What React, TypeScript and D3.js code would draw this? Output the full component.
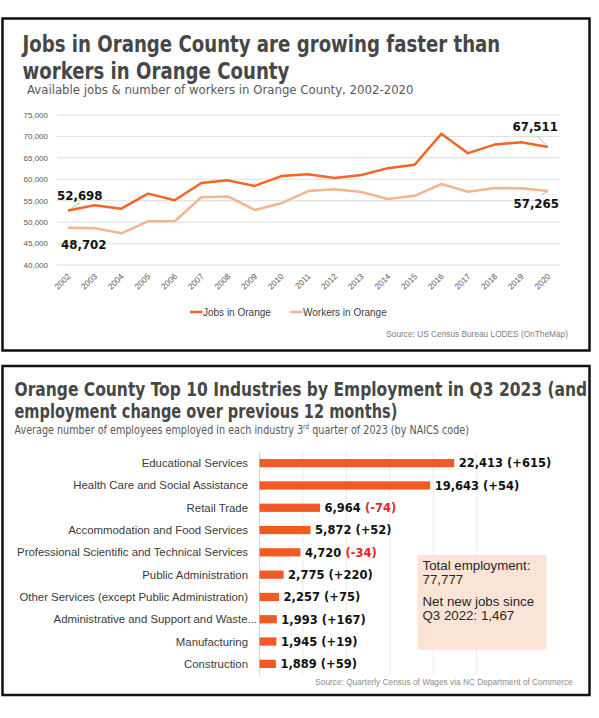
import * as d3 from 'd3'
import { useEffect, useRef } from 'react'

const W = 599, H = 718

// jobs vs workers, 2002-2020
const years = d3.range(2002, 2021)
const jobs = [52698, 53950, 53150, 56650, 55100, 59150, 59750, 58450, 60750, 61150, 60300, 61000, 62600, 63400, 70600, 66100, 68100, 68650, 67511]
const workers = [48702, 48600, 47400, 50200, 50200, 55800, 56000, 52850, 54400, 57250, 57700, 57050, 55400, 56150, 58900, 57100, 57950, 57900, 57265]
const yTicks = d3.range(40000, 75001, 5000)
const seriesNames = ['Jobs in Orange', 'Workers in Orange']

// top 10 industries, Q3 2023
const industries = [
  'Educational Services',
  'Health Care and Social Assistance',
  'Retail Trade',
  'Accommodation and Food Services',
  'Professional Scientific and Technical Services',
  'Public Administration',
  'Other Services (except Public Administration)',
  'Administrative and Support and Waste...',
  'Manufacturing',
  'Construction',
]
const employment = [22413, 19643, 6964, 5872, 4720, 2775, 2257, 1993, 1945, 1889]
const change = [615, 54, -74, 52, -34, 220, 75, 167, 19, 59]
const totalEmployment = 77777
const netNewJobs = 1467

const sans = 'Liberation Sans, Arial, sans-serif'
const narrow = '"Liberation Sans Narrow", "DejaVu Sans Condensed", "Liberation Sans", Arial, sans-serif'
const heavy = '"DejaVu Sans", Verdana, sans-serif'
const jobsColor = '#F26522'
const workersColor = '#F5B48C'
const barColor = '#F15A24'
const fmt = d3.format(',')

type Sel = d3.Selection<SVGGElement, unknown, null, undefined>

// squeeze each line horizontally to the width it is given
const block = (g: Sel, x: number, lines: { text: string, y: number, w: number }[],
  size: number, weight: number, fill: string, font: string) => {
  lines.forEach(l => {
    const t = g.append('text')
      .attr('font-family', font)
      .attr('font-size', size)
      .attr('font-weight', weight)
      .attr('fill', fill)
    const sup = l.text.match(/^(.*\d)(rd)( .*)$/)
    if (sup) {
      t.append('tspan').text(sup[1])
      t.append('tspan').attr('font-size', size * 0.62).attr('dy', -size * 0.38).text(sup[2])
      t.append('tspan').attr('dy', size * 0.38).text(sup[3])
    } else t.text(l.text)
    const k = l.w / (t.node() as SVGTextElement).getComputedTextLength()
    t.attr('transform', `translate(${x},${l.y}) scale(${k},1)`)
  })
}

const lineChart = (g: Sel) => {
  g.append('rect')
    .attr('x', 2.5).attr('y', 18.5).attr('width', 587).attr('height', 332)
    .attr('fill', 'none').attr('stroke', '#111').attr('stroke-width', 2.5)

  block(g, 22.5, [
    { text: 'Jobs in Orange County are growing faster than', y: 52, w: 478 },
    { text: 'workers in Orange County', y: 78.5, w: 267 },
  ], 23, 700, '#474747', narrow)
  block(g, 27, [
    { text: 'Available jobs & number of workers in Orange County, 2002-2020', y: 94, w: 387 },
  ], 13, 400, '#595959', narrow)

  const x = d3.scalePoint<number>().domain(years).range([68, 548])
  const y = d3.scaleLinear().domain([40000, 75000]).range([265, 115])

  g.append('g').selectAll('line').data(yTicks).join('line')
    .attr('x1', 57).attr('x2', 560)
    .attr('y1', d => y(d)).attr('y2', d => y(d))
    .attr('stroke', '#dedede').attr('stroke-width', 1)

  g.append('g').selectAll('text').data(yTicks).join('text')
    .attr('x', 48).attr('y', d => y(d)).attr('dy', '0.35em')
    .attr('text-anchor', 'end')
    .attr('font-family', sans).attr('font-size', 8).attr('fill', '#595959')
    .text(d => fmt(d))

  g.append('g').selectAll('text').data(years).join('text')
    .attr('transform', d => `translate(${x(d)! + 3},${277}) rotate(-45)`)
    .attr('text-anchor', 'end')
    .attr('font-family', sans).attr('font-size', 8.3).attr('fill', '#595959')
    .text(d => d)

  const line = d3.line<number>()
    .x((_, i) => x(years[i])!)
    .y(d => y(d))

  g.append('path').datum(workers)
    .attr('d', line).attr('fill', 'none')
    .attr('stroke', workersColor).attr('stroke-width', 2.5)
    .attr('stroke-linejoin', 'round')
  g.append('path').datum(jobs)
    .attr('d', line).attr('fill', 'none')
    .attr('stroke', jobsColor).attr('stroke-width', 2.5)
    .attr('stroke-linejoin', 'round')

  // end point callouts
  const first = years[0], last = years[years.length - 1]
  const n = years.length - 1
  const leaders = [
    [x(first)! + 12, y(jobs[0]) - 8, x(first)! + 3, y(jobs[0]) - 2],
    [x(last)! - 11, y(jobs[n]) - 11, x(last)! - 1, y(jobs[n]) - 1],
    [x(last)! - 7, y(workers[n]) + 4, x(last)! - 1, y(workers[n]) + 1],
  ]
  g.append('g').selectAll('line').data(leaders).join('line')
    .attr('x1', d => d[0]).attr('y1', d => d[1])
    .attr('x2', d => d[2]).attr('y2', d => d[3])
    .attr('stroke', '#a6a6a6').attr('stroke-width', 0.8)

  const callouts = [
    { v: jobs[0], x: x(first)! - 11, y: y(jobs[0]) - 11, anchor: 'start' },
    { v: workers[0], x: x(first)! - 7, y: y(workers[0]) + 21, anchor: 'start' },
    { v: jobs[n], x: x(last)! + 10, y: y(jobs[n]) - 16, anchor: 'end' },
    { v: workers[n], x: x(last)! + 11, y: y(workers[n]) + 17, anchor: 'end' },
  ]
  g.append('g').selectAll('text').data(callouts).join('text')
    .attr('x', d => d.x).attr('y', d => d.y)
    .attr('text-anchor', d => d.anchor)
    .attr('font-family', heavy).attr('font-weight', 700).attr('font-size', 11.8)
    .attr('fill', '#111')
    .text(d => fmt(d.v))

  // legend
  const legend = g.append('g').selectAll('g').data(seriesNames).join('g')
    .attr('transform', (_, i) => `translate(${i ? 290 : 190},312)`)
  legend.append('line')
    .attr('x1', 0).attr('x2', 12.5)
    .attr('stroke', (_, i) => i ? workersColor : jobsColor).attr('stroke-width', 2.5)
  legend.append('text')
    .attr('x', 13).attr('dy', '0.35em')
    .attr('font-family', sans).attr('font-size', 10).attr('fill', '#404040')
    .text(d => d)

  g.append('text')
    .attr('x', 568).attr('y', 337).attr('text-anchor', 'end')
    .attr('font-family', sans).attr('font-size', 8.3).attr('fill', '#808080')
    .text('Source: US Census Bureau LODES (OnTheMap)')
}

const barChart = (g: Sel) => {
  g.append('rect')
    .attr('x', 2.5).attr('y', 366).attr('width', 587).attr('height', 329)
    .attr('fill', 'none').attr('stroke', '#111').attr('stroke-width', 2.5)

  block(g, 14.5, [
    { text: 'Orange County Top 10 Industries by Employment in Q3 2023 (and', y: 396, w: 573 },
    { text: 'employment change over previous 12 months)', y: 418, w: 383 },
  ], 19.5, 700, '#474747', narrow)
  block(g, 14.5, [
    { text: 'Average number of employees employed in each industry 3rd quarter of 2023 (by NAICS code)', y: 434, w: 455 },
  ], 12, 400, '#595959', narrow)

  const x = d3.scaleLinear().domain([0, 25000]).range([259.5, 476.7])
  const y = d3.scaleBand<string>().domain(industries).range([452, 675])
    .paddingInner(0.63).paddingOuter(0.315)

  g.append('g').selectAll('line').data(x.ticks(5)).join('line')
    .attr('x1', d => x(d)).attr('x2', d => x(d))
    .attr('y1', 452).attr('y2', 675)
    .attr('stroke', d => d ? '#ebebeb' : '#d4d4d4').attr('stroke-width', 1)

  g.append('g').selectAll('rect').data(employment).join('rect')
    .attr('x', x(0))
    .attr('y', (_, i) => y(industries[i])!)
    .attr('width', d => x(d) - x(0))
    .attr('height', y.bandwidth())
    .attr('fill', barColor)

  g.append('g').selectAll('text').data(industries).join('text')
    .attr('x', d => d.endsWith('...') ? 257 : 248)
    .attr('y', d => y(d)! + y.bandwidth() / 2).attr('dy', '0.35em')
    .attr('text-anchor', 'end')
    .attr('font-family', sans).attr('font-size', 11.4).attr('fill', '#3a3a3a')
    .text(d => d)

  const values = g.append('g').selectAll('text').data(employment).join('text')
    .attr('x', d => x(d) + 4.5)
    .attr('y', (_, i) => y(industries[i])! + y.bandwidth() / 2).attr('dy', '0.37em')
    .attr('font-family', heavy).attr('font-weight', 700).attr('font-size', 11.5)
    .attr('fill', '#111')
  values.append('tspan').text(d => `${fmt(d)} `)
  values.append('tspan')
    .attr('fill', (_, i) => change[i] < 0 ? '#E3262B' : '#111')
    .text((_, i) => `(${change[i] < 0 ? '-' : '+'}${fmt(Math.abs(change[i]))})`)

  // totals box
  const box = g.append('g').attr('transform', 'translate(417.5,555)')
  box.append('rect').attr('width', 129).attr('height', 94.5).attr('fill', '#FBE4D6')
  box.append('g').selectAll('text').data([
    { t: 'Total employment:', y: 15 },
    { t: fmt(totalEmployment), y: 29 },
    { t: 'Net new jobs since', y: 51 },
    { t: `Q3 2022: ${fmt(netNewJobs)}`, y: 65 },
  ]).join('text')
    .attr('x', 5).attr('y', d => d.y)
    .attr('font-family', sans).attr('font-size', 13.3).attr('fill', '#262626')
    .text(d => d.t)

  g.append('text')
    .attr('x', 572.7).attr('y', 685).attr('text-anchor', 'end')
    .attr('font-family', sans).attr('font-size', 8.3).attr('fill', '#8c8c8c')
    .text('Source: Quarterly Census of Wages via NC Department of Commerce')
}

const chart = (node: SVGSVGElement) => {
  const svg = d3.select(node)
  svg.selectAll('*').remove()
  svg.append('rect').attr('width', W).attr('height', H).attr('fill', '#fff')
  lineChart(svg.append('g') as unknown as Sel)
  barChart(svg.append('g') as unknown as Sel)
}

export default function App() {
  const ref = useRef<SVGSVGElement>(null)
  useEffect(() => {
    document.body.style.margin = '0'
    if (ref.current) chart(ref.current)
  }, [])
  return <svg ref={ref} width={W} height={H} style={{ display: 'block' }} />
}
